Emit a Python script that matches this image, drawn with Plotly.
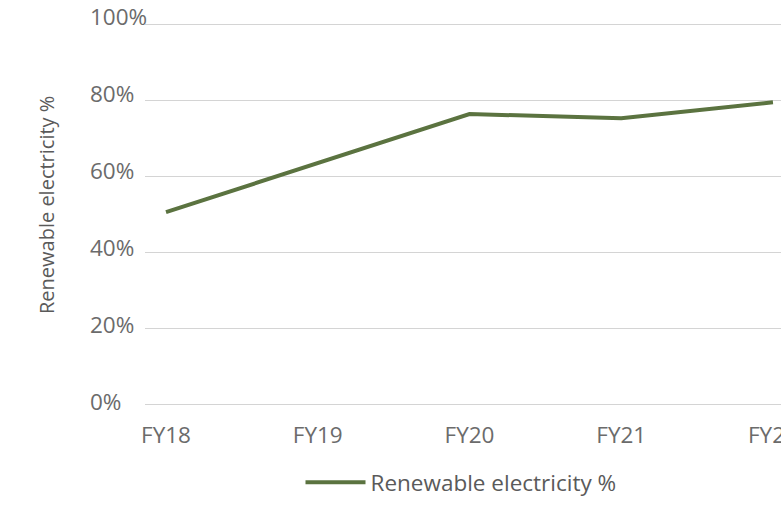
import plotly.graph_objects as go

# Renewable share of electricity use by fiscal year
years = ["FY18", "FY19", "FY20", "FY21", "FY22"]
renewable_pct = [50.5, 63.4, 76.3, 75.2, 79.4]

y_tick_vals = [0, 20, 40, 60, 80, 100]
y_tick_text = ["0%", "20%", "40%", "60%", "80%", "100%"]

series_name = "Renewable electricity %"
y_title = "Renewable electricity %"

LINE_COLOR = "#5b7340"
GRID_COLOR = "#d4d4d4"
TEXT_COLOR = "#6b6b6b"
FONT = "Open Sans"
FS = 22.5

W, H = 781, 505
ML, MR, MT, MB = 89, 0, 0, 60
PW, PH = W - ML - MR, H - MT - MB
BOTTOM = H - MB  # pixel row of paper y=0


def frac(py):
    """pixel row -> paper fraction"""
    return (BOTTOM - py) / PH


fig = go.Figure()

# label-only axis (drawn first, underneath the data)
fig.add_trace(go.Scatter(
    x=[years[0]], y=[0], mode="markers", marker=dict(opacity=0),
    xaxis="x", yaxis="y2", showlegend=False, hoverinfo="skip",
))

fig.add_trace(go.Scatter(
    x=years, y=renewable_pct, name=series_name, mode="lines",
    line=dict(color=LINE_COLOR, width=4),
    xaxis="x", yaxis="y", hoverinfo="x+y",
))

# value axis: 0 at row 404, 100 at row 24, padded so edge gridlines show
grid_px = (404 - 24) / 100
g_lo, g_hi = -1, 101

fig.update_layout(
    width=W, height=H,
    margin=dict(l=ML, r=MR, t=MT, b=MB, pad=0, autoexpand=False),
    paper_bgcolor="white", plot_bgcolor="rgba(0,0,0,0)",
    font=dict(family=FONT, size=FS, color=TEXT_COLOR),
    showlegend=True,
    legend=dict(
        orientation="h", x=(461 - ML) / PW, xanchor="center",
        y=frac(504), yanchor="bottom",
        font=dict(family=FONT, size=FS, color="#5a5a5a"),
        itemwidth=60, bgcolor="rgba(0,0,0,0)",
        borderwidth=0, tracegroupgap=0,
    ),
    xaxis=dict(
        domain=[(145 - ML) / PW, 1],
        type="category",
        range=[-0.1384, 4.053],
        showgrid=False, zeroline=False, showline=False, automargin=False,
        ticks="", ticklabelstandoff=12,
        tickfont=dict(family=FONT, size=FS, color=TEXT_COLOR),
    ),
    yaxis=dict(
        domain=[frac(404 - g_lo * grid_px), frac(24 - (g_hi - 100) * grid_px)],
        range=[g_lo, g_hi],
        tickvals=y_tick_vals,
        showticklabels=False, automargin=False,
        showgrid=True, gridcolor=GRID_COLOR, gridwidth=1,
        zeroline=False, showline=False, ticks="",
    ),
    # tick-label axis: right-side labels placed at the left edge read left-aligned
    yaxis2=dict(
        domain=[frac(402), frac(17)],
        range=[0, 100],
        anchor="free", position=0, side="right", automargin=False,
        tickvals=y_tick_vals, ticktext=y_tick_text,
        showgrid=False, zeroline=False, showline=False, ticks="",
        tickfont=dict(family=FONT, size=FS, color=TEXT_COLOR),
    ),
    annotations=[dict(
        text=y_title, textangle=-90,
        xref="paper", yref="paper",
        x=(46 - ML) / PW, y=frac(205),
        xanchor="center", yanchor="middle", showarrow=False,
        font=dict(family=FONT, size=20, color="#5a5a5a"),
    )],
)

fig.write_html("out.html")
